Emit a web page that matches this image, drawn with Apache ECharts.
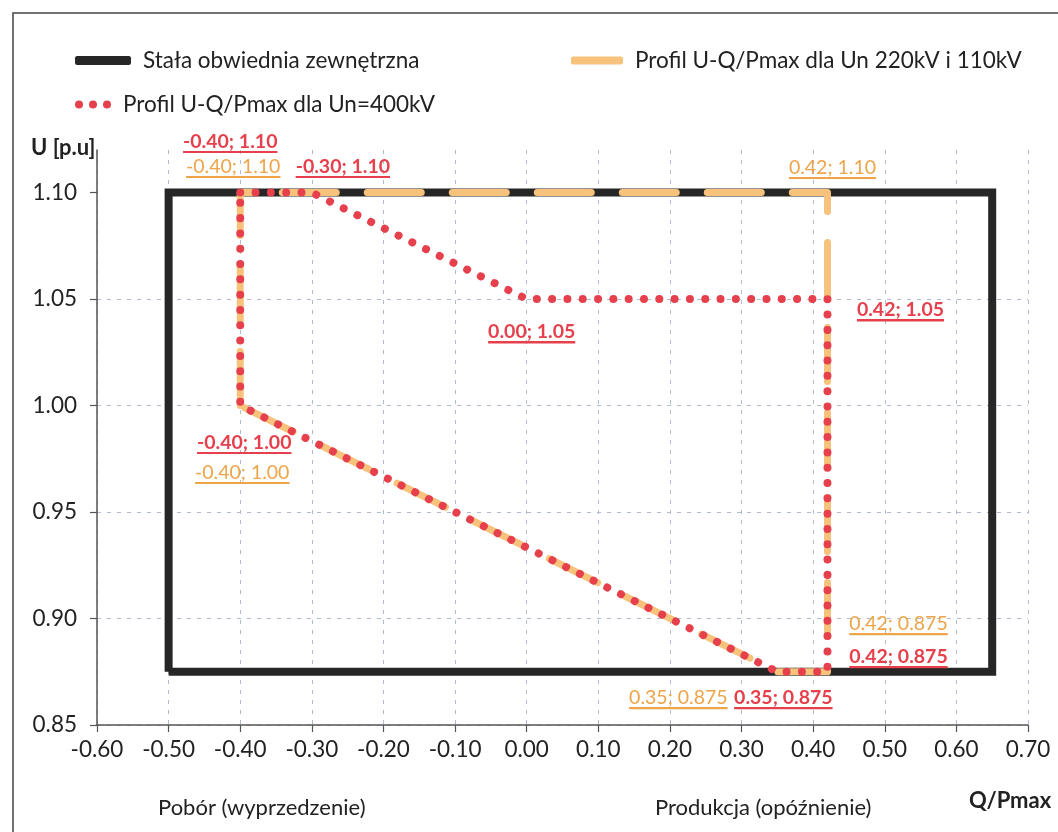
<!DOCTYPE html>
<html>
<head>
<meta charset="utf-8">
<script src="https://cdn.jsdelivr.net/npm/echarts@6/dist/echarts.min.js"></script>
<style>
html,body{margin:0;padding:0;background:#fff;}
#c{width:1058px;height:832px;}
</style>
</head>
<body>
<div id="c"></div>
<script>
// ---- data ----
var envelopeName = 'Stała obwiednia zewnętrzna';
var profile220Name = 'Profil U-Q/Pmax dla Un 220kV i 110kV';
var profile400Name = 'Profil U-Q/Pmax dla Un=400kV';

var envelopeQ = [-0.50, -0.50, 0.65, 0.65, -0.50];
var envelopeU = [0.875, 1.10, 1.10, 0.875, 0.875];

var profile220Q = [-0.40, -0.40, 0.42, 0.42, 0.35, -0.40];
var profile220U = [1.00, 1.10, 1.10, 0.875, 0.875, 1.00];

var profile400Q = [-0.40, -0.30, 0.00, 0.42, 0.42, 0.35, -0.40, -0.40];
var profile400U = [1.10, 1.10, 1.05, 1.05, 0.875, 0.875, 1.00, 1.10];

var xTicks = [-0.6, -0.5, -0.4, -0.3, -0.2, -0.1, 0, 0.1, 0.2, 0.3, 0.4, 0.5, 0.6, 0.7];
var yTicks = [0.85, 0.90, 0.95, 1.00, 1.05, 1.10];

// ---- label placement (pixel offsets from the point, label centre) ----
var labels220 = [[2, 67], [-7, -26], [5, -25], [71, -48], [-99, 26], null];
var labels400 = [[-10, -51], [31, -26], [5, 33], [73, 11], [71, -15], [6, 26], [4, 37], null];

var RED = '#e5404c';
var ORANGE = '#f6c27c';
var ORANGE_TXT = '#eea448';
var BLACK = '#262626';
var FONT = 'Lato, "Open Sans", sans-serif';

function fmtY(v) {
  return (Math.round(v * 1000) % 10 !== 0) ? v.toFixed(3) : v.toFixed(2);
}
function underlineBg(color) {
  return {
    type: 'linear', x: 0, y: 0, x2: 0, y2: 1,
    colorStops: [
      {offset: 0, color: 'rgba(0,0,0,0)'},
      {offset: 0.9, color: 'rgba(0,0,0,0)'},
      {offset: 0.9, color: color},
      {offset: 1, color: color}
    ]
  };
}
function buildData(qs, us, offs, color, bold) {
  return qs.map(function (q, i) {
    var item = {value: [q, us[i]]};
    var o = offs[i];
    if (o) {
      item.label = {
        show: true,
        position: 'inside',
        offset: o,
        formatter: q.toFixed(2) + '; ' + fmtY(us[i]),
        color: color,
        fontFamily: FONT,
        fontSize: 19.5,
        fontWeight: bold ? 'bold' : 'normal',
        lineHeight: 22,
        padding: [0, 0, 1, 0],
        backgroundColor: underlineBg(color)
      };
    } else {
      item.label = {show: false};
    }
    return item;
  });
}

var chart = echarts.init(document.getElementById('c'));

var dotsIcon = 'path://M0,4a4,4 0 1,0 8,0a4,4 0 1,0 -8,0M14,4a4,4 0 1,0 8,0a4,4 0 1,0 -8,0M28,4a4,4 0 1,0 8,0a4,4 0 1,0 -8,0';

var legendText = {color: '#222', fontSize: 22.5, fontFamily: FONT, padding: [0, 0, 0, 7]};

var option = {
  backgroundColor: '#ffffff',
  animation: false,
  graphic: [{
    type: 'rect', silent: true,
    shape: {x: 13, y: 13, width: 1100, height: 900},
    style: {fill: 'none', stroke: '#444', lineWidth: 1.5}
  }],
  title: [
    {text: 'U [p.u]', left: 26, top: 132, textStyle: {fontFamily: FONT, fontSize: 22, fontWeight: 'bold', color: '#222'}},
    {text: 'Pobór (wyprzedzenie)', left: 153, top: 792, textStyle: {fontFamily: FONT, fontSize: 22, fontWeight: 'normal', color: '#222'}},
    {text: 'Produkcja (opóźnienie)', left: 650, top: 792, textStyle: {fontFamily: FONT, fontSize: 22, fontWeight: 'normal', color: '#222'}},
    {text: 'Q/Pmax', left: 964, top: 785, textStyle: {fontFamily: FONT, fontSize: 22, fontWeight: 'bold', color: '#222'}}
  ],
  legend: [
    {left: 70, top: 44, itemWidth: 56, itemHeight: 9, textStyle: legendText,
     data: [{name: envelopeName, icon: 'roundRect', itemStyle: {color: BLACK}}]},
    {left: 566, top: 44, itemWidth: 52, itemHeight: 8, textStyle: legendText,
     data: [{name: profile220Name, icon: 'roundRect', itemStyle: {color: ORANGE}}]},
    {left: 70, top: 88, itemWidth: 36, itemHeight: 8, textStyle: legendText,
     data: [{name: profile400Name, icon: dotsIcon, itemStyle: {color: RED}}]}
  ],
  grid: {left: 97, right: 30, top: 150, bottom: 107, containLabel: false},
  xAxis: {
    type: 'value', min: -0.6, max: 0.7, interval: 0.1,
    axisLine: {show: true, onZero: false, lineStyle: {color: '#555', width: 1.5}},
    axisTick: {show: true, length: 7, lineStyle: {color: '#555', width: 1.2}},
    axisLabel: {
      color: '#222', fontSize: 22.5, fontFamily: FONT, margin: 13,
      formatter: function (v) { return v.toFixed(2); }
    },
    splitLine: {show: true, lineStyle: {color: '#b0bbd0', width: 1, type: [4, 6]}}
  },
  yAxis: {
    type: 'value', min: 0.85, max: 1.12,
    axisLine: {show: true, onZero: false, lineStyle: {color: '#555', width: 1.5}},
    axisTick: {show: true, length: 7, customValues: yTicks, lineStyle: {color: '#555', width: 1.2}},
    axisLabel: {
      color: '#222', fontSize: 22.5, fontFamily: FONT, margin: 20, customValues: yTicks,
      formatter: function (v) { return v.toFixed(2); }
    },
    splitLine: {show: true, showMaxLine: false, lineStyle: {color: '#b0bbd0', width: 1, type: [4, 6]}}
  },
  series: [
    {
      name: envelopeName, type: 'line', z: 2,
      symbol: 'none',
      data: envelopeQ.map(function (q, i) { return [q, envelopeU[i]]; }),
      lineStyle: {color: BLACK, width: 8, join: 'miter'},
      itemStyle: {color: BLACK}
    },
    {
      name: profile220Name, type: 'line', z: 3,
      symbol: 'circle', symbolSize: 1, showSymbol: true,
      itemStyle: {color: 'rgba(0,0,0,0)'},
      data: buildData(profile220Q, profile220U, labels220, ORANGE_TXT, false),
      lineStyle: {color: ORANGE, width: 7, type: [54, 31], cap: 'round', join: 'round'}
    },
    {
      name: profile400Name, type: 'line', z: 4,
      symbol: 'circle', symbolSize: 1, showSymbol: true,
      itemStyle: {color: 'rgba(0,0,0,0)'},
      data: buildData(profile400Q, profile400U, labels400, RED, true),
      lineStyle: {color: RED, width: 8, type: [0.01, 15.3], cap: 'round', join: 'round'}
    }
  ]
};
chart.setOption(option);
</script>
</body>
</html>
